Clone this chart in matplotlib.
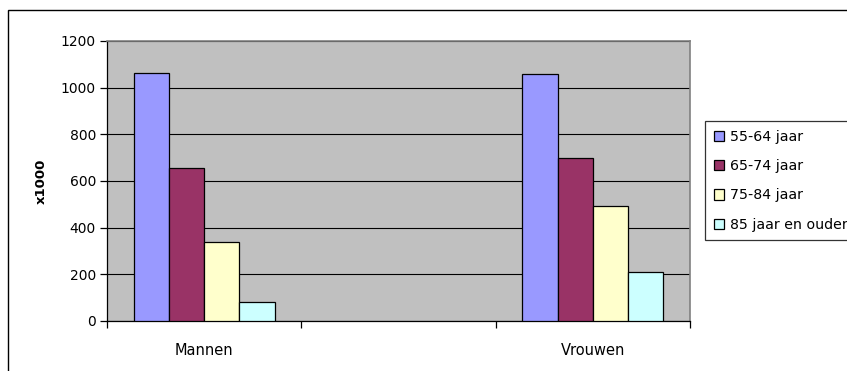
import numpy as np
import matplotlib
matplotlib.use('Agg')
import matplotlib.pyplot as plt
from matplotlib.patches import Rectangle

# Data (x1000 persons), middle slot is empty in the original chart
categories = ['Mannen', '', 'Vrouwen']
age_groups = ['55-64 jaar', '65-74 jaar', '75-84 jaar', '85 jaar en ouder']
values_55_64 = [1065, np.nan, 1060]
values_65_74 = [655, np.nan, 700]
values_75_84 = [340, np.nan, 495]
values_85_plus = [83, np.nan, 208]
series = [values_55_64, values_65_74, values_75_84, values_85_plus]
colors = ['#9999FF', '#993366', '#FFFFCC', '#CCFFFF']

W, H = 847, 371
fig = plt.figure(figsize=(W / 100, H / 100), dpi=100)
fig.patch.set_facecolor('white')

# outer chart border (runs off the right/bottom edge like the original)
fig.patches.append(Rectangle((8 / W, -0.2), 1.5, 1 - 10 / H + 0.2,
                             transform=fig.transFigure, fill=False,
                             edgecolor='black', linewidth=1.0))

ax = fig.add_axes([107 / W, (H - 321) / H, 583 / W, 280 / H])
ax.set_facecolor('#C0C0C0')

x = np.arange(len(categories))
bw = 0.1817
for i, (vals, col, lab) in enumerate(zip(series, colors, age_groups)):
    vals = np.array(vals, dtype=float)
    keep = ~np.isnan(vals)
    ax.bar(x[keep] + (i - 1.5) * bw, vals[keep], width=bw, color=col,
           edgecolor='black', linewidth=0.9, label=lab, zorder=3)

ax.set_xlim(-0.5, len(categories) - 0.5)
ax.set_ylim(0, 1200)
ax.set_yticks(range(0, 1201, 200))
ax.yaxis.grid(True, color='black', linewidth=0.8)
ax.set_axisbelow(True)

ax.set_xticks(x)
ax.set_xticklabels(categories, fontsize=10.5)
ax.set_xticks(np.arange(-0.5, len(categories)), minor=True)
ax.tick_params(axis='x', which='major', length=0, pad=16)
ax.tick_params(axis='x', which='minor', length=5, width=0.9, direction='out')
ax.tick_params(axis='y', length=5, width=0.9, direction='out', labelsize=10, pad=3)

ax.spines['top'].set_color('#808080')
ax.spines['top'].set_linewidth(1.2)
ax.spines['right'].set_color('#808080')
ax.spines['right'].set_linewidth(1.2)
ax.spines['left'].set_linewidth(0.9)
ax.spines['bottom'].set_linewidth(0.9)

ax.set_ylabel('x1000', fontsize=9.5, fontweight='bold', labelpad=9)

leg = ax.legend(loc='upper left', bbox_to_anchor=(705 / W, 1 - 121 / H),
                bbox_transform=fig.transFigure, frameon=True, fancybox=False,
                edgecolor='black', fontsize=10.2, handlelength=0.75,
                handleheight=0.75, handletextpad=0.4, labelspacing=1.08,
                borderpad=0.62, borderaxespad=0)
leg.get_frame().set_linewidth(0.9)

fig.savefig('out.png', dpi=100)
